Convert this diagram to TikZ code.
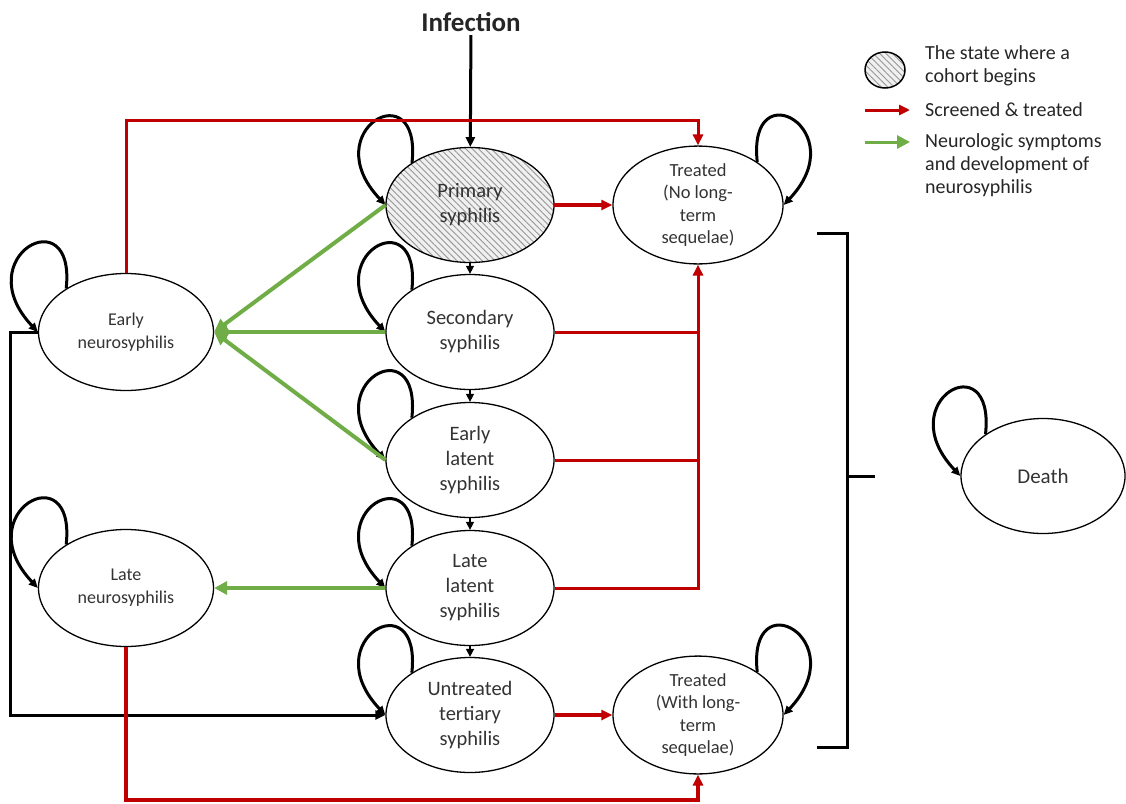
\documentclass[tikz,border=0pt]{standalone}
\usepackage{fontspec}
\setmainfont{Carlito}
\usetikzlibrary{shapes.geometric, arrows.meta, positioning, calc, patterns.meta}
\definecolor{cRed}{RGB}{192,0,0}
\definecolor{cGreen}{RGB}{112,173,71}
\definecolor{cHatch}{RGB}{150,150,150}
\tikzset{
	state/.style   ={ellipse, draw=black, line width=1.3pt, minimum width=168pt, minimum height=115pt, inner sep=0pt, align=center, text=black!80, font=\fontsize{20.5}{25}\selectfont},
	neuro/.style   ={state, minimum width=175pt, minimum height=117pt, font=\fontsize{18}{23}\selectfont},
	treated/.style ={state, minimum width=170pt, minimum height=115pt, font=\fontsize{18.5}{22.5}\selectfont},
	cohort/.style  ={preaction={fill=gray!12}, pattern={Lines[angle=-45, distance=4.5pt, line width=0.9pt]}, pattern color=cHatch},
	legtext/.style ={align=left, inner sep=0pt, text=black!85, font=\fontsize{20}{23}\selectfont},
	selfloop/.style={-{Triangle[length=9pt, width=8pt]}, line width=3pt},
	prog/.style    ={-{Triangle[length=8pt, width=8pt]}, line width=1.5pt},
	treat/.style   ={cRed, line width=3pt},
	treatarrow/.style={treat, -{Triangle[length=11pt, width=10pt]}},
	neurarrow/.style ={cGreen, line width=4pt, -{Triangle[length=13pt, width=13pt]}},
}
\begin{document}
\begin{tikzpicture}[x=1pt, y=-1pt]
	\useasboundingbox (0,0) rectangle (1126,803);
	% states
	\node[font=\fontsize{27}{30}\selectfont\bfseries, text=black!85] (inf) at (471,22) {Infection};
	\node[state, cohort] (prim) at (470,205) {Primary\\syphilis};
	\node[state] (sec) at (470,332) {Secondary\\syphilis};
	\node[state] (el) at (470,460) {Early\\latent\\syphilis};
	\node[state] (ll) at (470,588) {Late\\latent\\syphilis};
	\node[state] (ut) at (470,715) {Untreated\\tertiary\\syphilis};
	\node[treated] (tn) at (698,205) {Treated\\(No long-\\term\\sequelae)};
	\node[treated] (tw) at (698,715) {Treated\\(With long-\\term\\sequelae)};
	\node[neuro] (en) at (126,332) {Early\\neurosyphilis};
	\node[neuro] (ln) at (126,588) {Late\\neurosyphilis};
	\node[state, minimum width=164pt, font=\fontsize{21}{25}\selectfont] (dth) at (1043,476) {Death};
	% helper levels
	\coordinate (topline) at (0,120);
	\coordinate (botline) at (0,800);
	\coordinate (leftline) at (10,0);
	% progression
	\draw[line width=3pt, -{Triangle[length=10pt, width=9pt]}] (inf) -- (prim);
	\foreach \a/\b in {prim/sec, sec/el, el/ll, ll/ut}
		\draw[prog] (\a) -- (\b);
	% self loops
	\foreach \n in {en, ln, prim, sec, el, ll, ut, dth}
		\draw[selfloop] (\n.144) .. controls +(10,-92) and +(-71,-75) .. (\n.west);
	\foreach \n in {tn, tw}
		\draw[selfloop] (\n.36) .. controls +(-10,-92) and +(71,-75) .. (\n.east);
	% relapse to tertiary
	\draw[line width=3pt, -{Triangle[length=10pt, width=9pt]}] (en.west) -- (en.west -| leftline) |- (ut.west);
	% screened & treated
	\draw[treatarrow, line width=4pt] (prim) -- (tn);
	\draw[treatarrow, line width=4pt] (ut) -- (tw);
	\draw[treat] (sec.east) -- (sec.east -| tn.south);
	\draw[treat] (el.east) -- (el.east -| tn.south);
	\draw[treatarrow] (ll.east) -| (tn.south);
	\draw[treatarrow] (en.north) -- (en.north |- topline) -| (tn.north);
	\draw[treatarrow, line width=3.5pt] (ln.south) -- (ln.south |- botline) -| (tw.south);
	% neurologic symptoms
	\draw[neurarrow] (prim.west) -- (en.east);
	\draw[neurarrow] (sec.west) -- (en.east);
	\draw[neurarrow] (el.west) -- (en.east);
	\draw[neurarrow] (ll.west) -- (ln.east);
	% bracket to death
	\coordinate (bktop) at (817,233);
	\coordinate (bkbot) at (817,747);
	\coordinate (bkmid) at (847,476);
	\draw[line width=3pt] (bktop) -- ++(30,0) |- (bkbot);
	\draw[line width=3pt] (bkmid) -- ++(28,0);
	% legend
	\node[ellipse, draw=black, line width=1.5pt, minimum width=40pt, minimum height=36pt, cohort] (lgcohort) at (885,70) {};
	\node[legtext, anchor=west] (lgtxt1) at (925,66) {The state where a\\cohort begins};
	\coordinate (lgred) at (865,110);
	\draw[treatarrow, line width=3pt] (lgred) -- ++(45,0);
	\node[legtext, anchor=west] (lgtxt2) at (925,110) {Screened \& treated};
	\coordinate (lggreen) at (865,142);
	\draw[neurarrow, line width=3pt] (lggreen) -- ++(45,0);
	\node[legtext, anchor=west] (lgtxt3) at (925,165) {Neurologic symptoms\\and development of\\neurosyphilis};
\end{tikzpicture}
\end{document}
